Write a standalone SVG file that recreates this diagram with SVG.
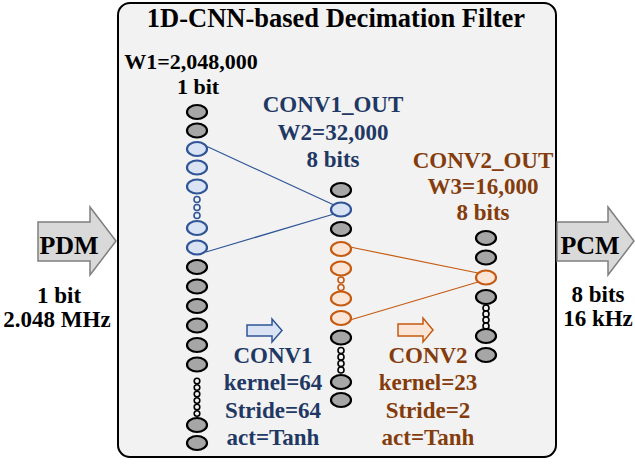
<svg xmlns="http://www.w3.org/2000/svg" width="635" height="464" viewBox="0 0 635 464">
<style>
text{font-family:"Liberation Serif","Times New Roman",serif;font-weight:bold;text-anchor:middle}
.k{fill:#000;font-size:23px}
.b{fill:#1f3864;font-size:23px}
.o{fill:#843c0c;font-size:23px}
.g{fill:#a6a6a6;stroke:#000;stroke-width:2.2}
.be{fill:#dae3f3;stroke:#2f5597;stroke-width:2.2}
.oe{fill:#fbe5d6;stroke:#c55a11;stroke-width:2.2}
.kd{fill:#f2f2f2;stroke:#000;stroke-width:1.6}
.bd{fill:#f2f2f2;stroke:#2f5597;stroke-width:1.6}
.od{fill:#f2f2f2;stroke:#c55a11;stroke-width:1.6}
.big{fill:#d9d9d9;stroke:#7f7f7f;stroke-width:1.5}
</style>
<g id="filter-box">
<rect x="118" y="3" width="438" height="454" rx="12" fill="#f2f2f2" stroke="#000" stroke-width="2"/>
<text x="336" y="27" style="font-size:26.5px;fill:#000">1D-CNN-based Decimation Filter</text>
</g>
<g id="pdm">
<path class="big" d="M38,222 H90 V207 L116,241 L90,275 V261 H38 Z"/>
<text class="k" x="69" y="254" style="font-size:26px">PDM</text>
<text class="k" x="59" y="303">1 bit</text>
<text class="k" x="57" y="327">2.048 MHz</text>
</g>
<g id="pcm">
<path class="big" d="M557,222 H608 V207 L634,241 L608,275 V261 H557 Z"/>
<text class="k" x="590" y="254" style="font-size:26px">PCM</text>
<text class="k" x="598" y="302">8 bits</text>
<text class="k" x="598" y="326">16 kHz</text>
</g>
<g id="connectors" fill="none" stroke-width="1.2">
<line x1="206" y1="146" x2="334" y2="205" stroke="#2f5597"/>
<line x1="206" y1="252" x2="334" y2="214" stroke="#2f5597"/>
<line x1="350" y1="247" x2="478" y2="273" stroke="#c55a11"/>
<line x1="350" y1="320" x2="478" y2="282" stroke="#c55a11"/>
</g>
<g id="input-layer">
<text class="k" x="191" y="69" style="font-size:22px">W1=2,048,000</text>
<text class="k" x="198" y="94" style="font-size:22px">1 bit</text>
<ellipse class="g" cx="197" cy="112" rx="10" ry="7"/>
<ellipse class="g" cx="197" cy="130.5" rx="10" ry="7"/>
<ellipse class="be" cx="197" cy="149" rx="10" ry="7"/>
<ellipse class="be" cx="197" cy="167.5" rx="10" ry="7"/>
<ellipse class="be" cx="197" cy="186.5" rx="10" ry="7"/>
<circle class="bd" cx="197" cy="199.5" r="3"/>
<circle class="bd" cx="197" cy="207.5" r="3"/>
<circle class="bd" cx="197" cy="215.5" r="3"/>
<ellipse class="be" cx="197" cy="228" rx="10" ry="7"/>
<ellipse class="be" cx="197" cy="247.5" rx="10" ry="7"/>
<ellipse class="g" cx="197" cy="267" rx="10" ry="7"/>
<ellipse class="g" cx="197" cy="286.5" rx="10" ry="7"/>
<ellipse class="g" cx="197" cy="306" rx="10" ry="7"/>
<ellipse class="g" cx="197" cy="325.5" rx="10" ry="7"/>
<ellipse class="g" cx="197" cy="345" rx="10" ry="7"/>
<ellipse class="g" cx="197" cy="364.5" rx="10" ry="7"/>
<circle class="kd" cx="197" cy="381" r="2.8"/>
<circle class="kd" cx="197" cy="387.5" r="2.8"/>
<circle class="kd" cx="197" cy="394" r="2.8"/>
<circle class="kd" cx="197" cy="400.5" r="2.8"/>
<circle class="kd" cx="197" cy="407" r="2.8"/>
<circle class="kd" cx="197" cy="413.5" r="2.8"/>
<ellipse class="g" cx="197" cy="425" rx="10" ry="7"/>
<ellipse class="g" cx="197" cy="443" rx="10" ry="7"/>
</g>
<g id="conv1-out">
<text class="b" x="333" y="112">CONV1_OUT</text>
<text class="b" x="333" y="140">W2=32,000</text>
<text class="b" x="333" y="167">8 bits</text>
<ellipse class="g" cx="341" cy="190" rx="10" ry="7"/>
<ellipse class="be" cx="341" cy="209.5" rx="10" ry="7"/>
<ellipse class="g" cx="341" cy="229" rx="10" ry="7"/>
<ellipse class="oe" cx="341" cy="249" rx="10" ry="7"/>
<ellipse class="oe" cx="341" cy="268.5" rx="10" ry="7"/>
<circle class="od" cx="341" cy="280" r="3"/>
<circle class="od" cx="341" cy="287.5" r="3"/>
<ellipse class="oe" cx="341" cy="298.5" rx="10" ry="7"/>
<ellipse class="oe" cx="341" cy="318" rx="10" ry="7"/>
<ellipse class="g" cx="341" cy="337.5" rx="10" ry="7"/>
<circle class="kd" cx="341" cy="350.5" r="3"/>
<circle class="kd" cx="341" cy="357" r="3"/>
<circle class="kd" cx="341" cy="363.5" r="3"/>
<circle class="kd" cx="341" cy="370" r="3"/>
<ellipse class="g" cx="341" cy="382" rx="10" ry="7"/>
<ellipse class="g" cx="341" cy="400" rx="10" ry="7"/>
</g>
<g id="conv2-out">
<text class="o" x="483" y="168">CONV2_OUT</text>
<text class="o" x="483" y="194">W3=16,000</text>
<text class="o" x="483" y="220">8 bits</text>
<ellipse class="g" cx="486" cy="238" rx="10" ry="7"/>
<ellipse class="g" cx="486" cy="257.5" rx="10" ry="7"/>
<ellipse class="oe" cx="486" cy="277.5" rx="10" ry="7"/>
<ellipse class="g" cx="486" cy="297" rx="10" ry="7"/>
<circle class="kd" cx="486" cy="308" r="3"/>
<circle class="kd" cx="486" cy="314" r="3"/>
<circle class="kd" cx="486" cy="320" r="3"/>
<circle class="kd" cx="486" cy="326" r="3"/>
<ellipse class="g" cx="486" cy="336" rx="10" ry="7"/>
<ellipse class="g" cx="486" cy="355" rx="10" ry="7"/>
</g>
<g id="conv1">
<path d="M247,325 H272 V319 L282,330.5 L272,342 V336 H247 Z" fill="#dae3f3" stroke="#2f5597" stroke-width="1.5"/>
<text class="b" x="273" y="363">CONV1</text>
<text class="b" x="273" y="390">kernel=64</text>
<text class="b" x="273" y="418">Stride=64</text>
<text class="b" x="273" y="445">act=Tanh</text>
</g>
<g id="conv2">
<path d="M398,324 H423 V318 L433,330 L423,342 V336 H398 Z" fill="#fbe5d6" stroke="#c55a11" stroke-width="1.5"/>
<text class="o" x="428" y="363">CONV2</text>
<text class="o" x="428" y="390">kernel=23</text>
<text class="o" x="428" y="418">Stride=2</text>
<text class="o" x="428" y="445">act=Tanh</text>
</g>
</svg>
